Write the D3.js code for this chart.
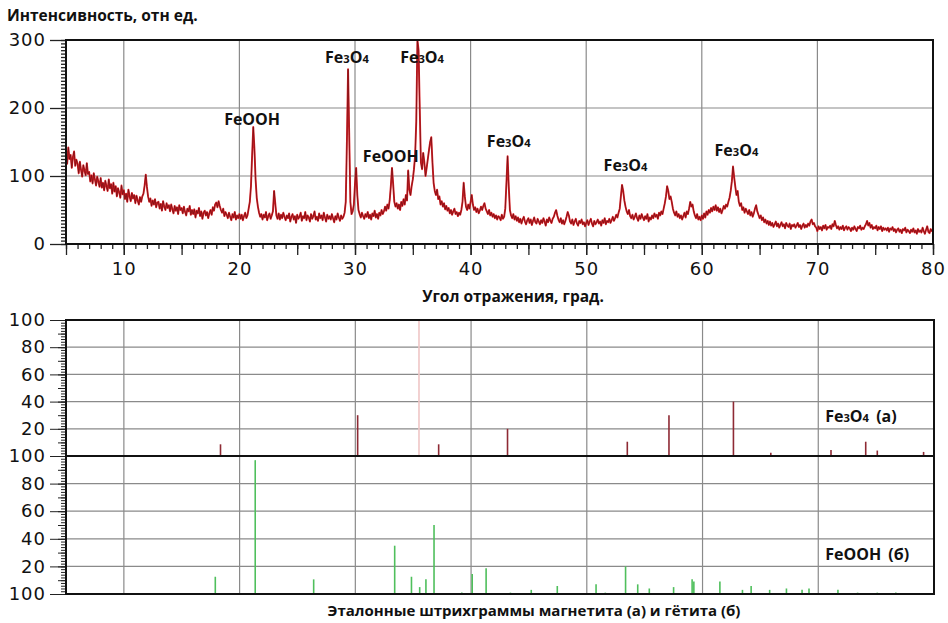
<!DOCTYPE html>
<html>
<head>
<meta charset="utf-8">
<script src="https://cdn.jsdelivr.net/npm/d3@7"></script>
<style>
body{margin:0;background:#fff;}
svg{display:block;}
.lbl{font-family:"Open Sans",sans-serif;font-weight:bold;font-size:15px;fill:#111;}
.axis text{font-family:"DejaVu Sans",sans-serif;font-size:18px;fill:#111;letter-spacing:1px;}
.axis path{display:none;}
.axis line{stroke:#222;}
</style>
</head>
<body>
<script>
//diffractogram: 2theta from 5 to 80 deg, step 0.1
var angleStart = 5, angleStep = 0.1;
var intensity = [
 138,118,142,125,131,112,128,136,115,124,
 118,104,121,109,99,116,108,101,119,103,
 106,92,101,89,104,95,86,99,92,84,
 97,83,90,79,93,85,78,95,82,88,
 74,90,77,85,70,82,76,68,86,73,
 79,66,74,62,80,70,63,75,67,72,
 60,71,64,58,69,62,70,74,86,102,
 84,70,62,67,56,64,58,66,54,61,
 62,52,59,49,63,55,50,60,53,57,
 48,58,51,45,56,49,54,44,57,50,
 53,45,55,47,42,52,48,56,43,50,
 44,51,39,49,45,53,41,48,37,46,
 49,42,47,38,45,50,43,54,49,58,
 61,54,63,56,50,46,52,41,47,43,
 38,46,40,35,44,39,47,36,42,38,
 44,37,43,35,41,46,38,42,52,62,
 85,130,172,140,95,68,55,46,40,44,
 36,43,39,47,35,41,45,37,42,48,
 78,60,42,37,45,36,43,38,46,40,
 35,42,38,45,33,40,44,36,41,31,
 43,37,40,46,34,41,38,47,35,42,
 39,33,44,37,41,48,36,40,34,45,
 38,42,35,46,39,33,43,37,41,36,
 44,38,32,41,36,45,39,34,42,37,
 40,46,62,150,257,160,62,44,48,58,
 88,112,72,50,44,39,46,41,37,44,
 40,47,38,43,36,45,41,49,39,44,
 37,46,42,50,44,48,55,49,58,52,
 64,85,112,88,62,55,60,52,58,50,
 62,56,66,58,72,64,108,80,72,85,
 95,110,130,180,300,285,200,120,110,134,
 120,100,112,125,138,150,157,120,90,78,
 72,80,66,70,58,63,55,60,51,56,
 49,53,45,50,43,48,52,44,47,41,
 46,43,50,62,90,70,55,50,58,52,
 62,72,58,50,54,47,52,45,49,55,
 50,56,60,52,48,44,50,42,46,40,
 44,38,42,36,41,39,35,43,37,40,
 52,90,129,85,50,42,38,44,36,41,
 34,39,32,37,30,36,40,33,29,35,
 38,31,36,28,34,39,32,30,37,33,
 29,35,31,38,33,27,36,32,39,34,
 31,37,40,46,50,42,36,32,38,30,
 35,29,34,40,47,42,33,30,36,28,
 33,37,30,27,34,31,36,29,32,26,
 31,35,28,33,37,30,26,34,29,32,
 36,30,33,27,35,31,38,29,34,32,
 37,31,35,40,34,38,43,39,46,52,
 70,87,78,64,55,48,44,50,41,38,
 43,36,40,45,38,34,42,37,44,39,
 35,41,37,44,33,39,36,42,38,45,
 40,43,37,46,42,48,44,52,60,70,
 85,78,66,70,62,52,46,42,48,40,
 44,38,42,36,41,46,39,48,44,52,
 62,55,58,48,42,38,44,36,40,35,
 42,37,45,39,48,43,50,46,53,48,
 55,50,57,49,54,47,52,45,50,56,
 52,58,55,62,68,78,92,114,98,84,
 72,78,62,56,60,50,54,46,52,48,
 44,50,42,47,40,45,52,57,48,43,
 38,42,35,39,32,36,30,34,28,33,
 27,31,25,29,33,26,30,24,28,32,
 26,29,23,31,27,25,30,22,28,26,
 29,24,27,31,25,28,22,27,30,24,
 28,25,30,27,33,36,29,31,26,24,
 19,26,22,25,20,27,23,28,21,25,
 24,27,22,29,26,34,28,23,26,21,
 25,22,27,20,24,26,21,25,23,19,
 24,21,26,22,19,25,23,27,21,24,
 22,26,29,34,27,31,24,28,22,25,
 23,27,20,25,22,26,19,24,21,23,
 20,24,18,23,21,25,19,22,17,21,
 23,18,21,16,22,20,24,17,21,19,
 16,21,18,23,17,20,15,22,18,20,
 17,24,19,15,21,26,18,16,22,19,
 21
];

//peak labels on the diffractogram
var peakNames  = ["FeOOH", "Fe3O4", "Fe3O4", "FeOOH", "Fe3O4", "Fe3O4", "Fe3O4"];
var peakAngles = [21.1, 29.3, 35.8, 33.1, 43.3, 53.4, 63.0];
var peakLevels = [175, 266, 266, 121, 143, 107, 129];

//reference bar patterns
var magnetiteAngles  = [18.35, 30.2, 35.5, 37.2, 43.15, 53.5, 57.1, 62.67, 65.9, 71.1, 74.1, 75.1, 79.1];
var magnetiteHeights = [8.6, 30, 100, 8.6, 20, 10.5, 30, 40, 2.4, 4.4, 10.5, 4, 3];
var goethiteAngles  = [17.9, 21.35, 26.4, 33.4, 34.85, 35.56, 36.1, 36.8, 39.2, 40.1, 41.3, 43.4, 45.2, 47.45, 50.8, 51.6, 53.35, 54.4, 55.4, 57.5, 59.1, 59.25, 61.5, 63.45, 64.2, 65.8, 67.25, 68.6, 69.2, 71.7, 73.4, 75.1, 76.7];
var goethiteHeights = [12.5, 97, 10.6, 35, 12.5, 5, 10.6, 50, 1, 14.5, 18.6, 1, 3, 5.8, 7, 1, 20, 7, 4, 5, 10.6, 9, 9, 3, 5.8, 3, 4, 3, 4, 3, 1, 1, 1];

//axis ticks
var angleGrid = [10, 20, 30, 40, 50, 60, 70];
var angleLabels = [10, 20, 30, 40, 50, 60, 70, 80];
var intensityTicks = [0, 100, 200, 300];
var barTicksTop = [20, 40, 60, 80, 100];
var barTicksBottom = [0, 20, 40, 60, 80, 100];
var barTickLabels = ["100", "20", "40", "60", "80", "100"];

var width = 948, height = 623;

var svg = d3.select('body').append('svg')
    .attr('width', width)
    .attr('height', height);

var x = d3.scaleLinear().domain([5, 80]).range([66, 933]);
var xBars = d3.scaleLinear().domain([5, 80]).range([66, 934]);
var y = d3.scaleLinear().domain([0, 300]).range([244, 40]);
var yMag = d3.scaleLinear().domain([0, 100]).range([456, 320]);
var yGoe = d3.scaleLinear().domain([0, 100]).range([594, 456]);

var points = intensity.map(function(v, i){
    return [angleStart + i * angleStep, v];
});

//---- top chart ----
var chart = svg.append('g');

//grid
chart.selectAll('.vgrid').data(angleGrid).enter().append('line')
    .attr('x1', function(d){ return x(d); }).attr('x2', function(d){ return x(d); })
    .attr('y1', y(300)).attr('y2', y(0))
    .attr('stroke', '#8a8a8a').attr('stroke-width', 1.2);
chart.selectAll('.hgrid').data([100, 200]).enter().append('line')
    .attr('x1', x(5)).attr('x2', x(80))
    .attr('y1', function(d){ return y(d); }).attr('y2', function(d){ return y(d); })
    .attr('stroke', '#8a8a8a').attr('stroke-width', 1.2);

//y axis: minor and major ticks
chart.append('g').attr('class', 'axis')
    .attr('transform', 'translate(' + x(5) + ',0)')
    .call(d3.axisLeft(y).tickValues(d3.range(0, 301, 5)).tickSize(5).tickFormat(''));
chart.append('g').attr('class', 'axis')
    .attr('transform', 'translate(' + x(5) + ',0)')
    .call(d3.axisLeft(y).tickValues(intensityTicks).tickSize(16).tickPadding(4));

//x axis
chart.append('g').attr('class', 'axis')
    .attr('transform', 'translate(0,' + y(0) + ')')
    .call(d3.axisBottom(x).tickValues(d3.range(5, 81, 1)).tickSize(5).tickFormat(''));
chart.append('g').attr('class', 'axis')
    .attr('transform', 'translate(0,' + y(0) + ')')
    .call(d3.axisBottom(x).tickValues(d3.range(5, 81, 5)).tickSize(11).tickFormat(''));
chart.append('g').attr('class', 'axis')
    .attr('transform', 'translate(0,' + y(0) + ')')
    .call(d3.axisBottom(x).tickValues(angleLabels).tickSize(11).tickPadding(7));

chart.selectAll('.axis line').attr('stroke-width', 1.3);

//spectrum
svg.append('clipPath').attr('id', 'clipTop').append('rect')
    .attr('x', x(5)).attr('y', y(300)).attr('width', x(80) - x(5)).attr('height', y(0) - y(300));

var line = d3.line()
    .x(function(d){ return x(d[0]); })
    .y(function(d){ return y(d[1]); });

chart.append('path').datum(points)
    .attr('clip-path', 'url(#clipTop)')
    .attr('fill', 'none')
    .attr('stroke', '#dd2328')
    .attr('stroke-width', 1.9)
    .attr('stroke-linejoin', 'round')
    .attr('d', line);
chart.append('path').datum(points)
    .attr('clip-path', 'url(#clipTop)')
    .attr('fill', 'none')
    .attr('stroke', '#5c0a10')
    .attr('stroke-width', 0.7)
    .attr('stroke-opacity', 0.85)
    .attr('d', line);

//frame
chart.append('rect')
    .attr('x', x(5)).attr('y', y(300))
    .attr('width', x(80) - x(5)).attr('height', y(0) - y(300))
    .attr('fill', 'none').attr('stroke', '#111').attr('stroke-width', 2);

//chemical formula with small digits
function formula(sel, name){
    var parts = name.match(/[A-Za-z]+|\d+|\s*\(.*\)/g);
    parts.forEach(function(p){
        var t = sel.append('tspan').text(p);
        if (/^\d+$/.test(p)) t.style('font-size', '70%');
    });
}

chart.selectAll('.peak').data(peakNames).enter().append('text')
    .attr('class', 'lbl')
    .attr('x', function(d, i){ return x(peakAngles[i]); })
    .attr('y', function(d, i){ return y(peakLevels[i]); })
    .attr('text-anchor', 'middle')
    .style('font-size', '16px')
    .each(function(d){ formula(d3.select(this), d); });

svg.append('text').attr('class', 'lbl')
    .attr('x', 7).attr('y', 21)
    .style('font-size', '15.5px')
    .text('Интенсивность, отн ед.');
svg.append('text').attr('class', 'lbl')
    .attr('x', 513).attr('y', 302)
    .attr('text-anchor', 'middle')
    .style('font-size', '15.5px')
    .text('Угол отражения, град.');

//---- reference bars ----
function barPanel(yScale, ticks, angles, heights, color, name, labelY){
    var g = svg.append('g');

    g.selectAll('.vgrid').data(angleGrid).enter().append('line')
        .attr('x1', function(d){ return xBars(d); }).attr('x2', function(d){ return xBars(d); })
        .attr('y1', yScale(100)).attr('y2', yScale(0))
        .attr('stroke', '#8a8a8a').attr('stroke-width', 1.2);
    g.selectAll('.hgrid').data([20, 40, 60, 80]).enter().append('line')
        .attr('x1', xBars(5)).attr('x2', xBars(80))
        .attr('y1', function(d){ return yScale(d); }).attr('y2', function(d){ return yScale(d); })
        .attr('stroke', '#8a8a8a').attr('stroke-width', 1.2);

    g.append('g').attr('class', 'axis')
        .attr('transform', 'translate(' + xBars(5) + ',0)')
        .call(d3.axisLeft(yScale).tickValues(d3.range(0, 101, 2)).tickSize(5).tickFormat(''));
    g.append('g').attr('class', 'axis')
        .attr('transform', 'translate(' + xBars(5) + ',0)')
        .call(d3.axisLeft(yScale).tickValues(d3.range(0, 101, 10)).tickSize(8).tickFormat(''));
    g.append('g').attr('class', 'axis')
        .attr('transform', 'translate(' + xBars(5) + ',0)')
        .call(d3.axisLeft(yScale).tickValues(ticks).tickSize(16).tickPadding(4)
            .tickFormat(function(d){ return barTickLabels[barTicksBottom.indexOf(d)]; }));
    g.selectAll('.axis line').attr('stroke-width', 1);

    g.selectAll('.bar').data(angles).enter().append('line')
        .attr('x1', function(d){ return xBars(d); }).attr('x2', function(d){ return xBars(d); })
        .attr('y1', yScale(0))
        .attr('y2', function(d, i){ return yScale(heights[i]); })
        .attr('stroke', function(d, i){ return heights[i] >= 100 ? '#efc6c6' : color; })
        .attr('stroke-width', 1.6);

    g.append('rect')
        .attr('x', xBars(5)).attr('y', yScale(100))
        .attr('width', xBars(80) - xBars(5)).attr('height', yScale(0) - yScale(100))
        .attr('fill', 'none').attr('stroke', '#111').attr('stroke-width', 2);

    g.append('text').attr('class', 'lbl')
        .attr('x', xBars(70.6)).attr('y', yScale(labelY))
        .style('font-size', '16px')
        .style('word-spacing', '3px')
        .each(function(){ formula(d3.select(this), name); });
}

barPanel(yMag, barTicksTop, magnetiteAngles, magnetiteHeights, '#8e2a34', 'Fe3O4 (а)', 25);
barPanel(yGoe, barTicksBottom, goethiteAngles, goethiteHeights, '#4fbf5c', 'FeOOH (б)', 25);

svg.append('text').attr('class', 'lbl')
    .attr('x', 534).attr('y', 616)
    .attr('text-anchor', 'middle')
    .text('Эталонные штрихграммы магнетита (а) и гётита (б)');
</script>
</body>
</html>
